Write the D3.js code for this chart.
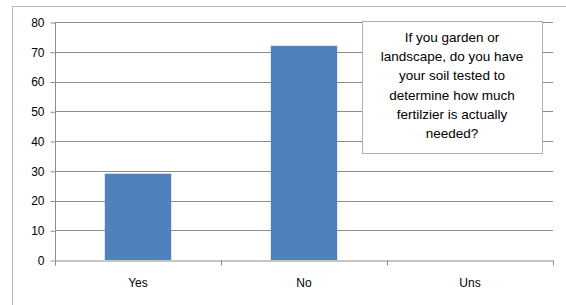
<!DOCTYPE html>
<html lang="en">
<head>
	<meta charset="UTF-8"/>
	<title>Soil testing survey</title>
	<script src="https://d3js.org/d3.v7.min.js"></script>
	<style>
		body { margin:0; background:#fff; }
		svg text { font-family: "Liberation Sans", Arial, sans-serif; fill:#000; }
	</style>
</head>
<body>
	<script>

	var w = 566;
	var h = 305;

	var categories = ["Yes", "No", "Uns"];
	var values = [29, 72, 0];
	var yTicks = [0, 10, 20, 30, 40, 50, 60, 70, 80];
	var titleLines = ["If you garden or", "landscape, do you have", "your soil tested to",
	                  "determine how much", "fertilzier is actually", "needed?"];

	var plot = {left:55, right:553, top:22, bottom:260};

	var xScale = d3.scaleBand()
				.domain(categories)
				.range([plot.left, plot.right])
				.paddingInner(0.6)
				.paddingOuter(0.3);

	var bandScale = d3.scaleBand()
				.domain(categories)
				.range([plot.left, plot.right]);

	var yScale = d3.scaleLinear()
				.domain([0, 80])
				.range([plot.bottom, plot.top]);

	var svg = d3.select("body")
				.append("svg")
				.attr("width", w)
				.attr("height", h);

	// chart area border (right and bottom run off the picture)
	svg.append("rect")
		.attr("x", 12.5).attr("y", 6.5)
		.attr("width", 570).attr("height", 320)
		.attr("fill", "none")
		.attr("stroke", "#b8b8b8");

	// gridlines
	svg.selectAll("line.grid")
		.data(yTicks.filter(function(d){ return d > 0; }))
		.enter()
		.append("line")
		.attr("class", "grid")
		.attr("x1", plot.left).attr("x2", plot.right)
		.attr("y1", function(d){ return Math.round(yScale(d)) + 0.5; })
		.attr("y2", function(d){ return Math.round(yScale(d)) + 0.5; })
		.attr("stroke", "#8c8c8c");

	// y axis
	var yAxis = svg.append("g")
		.attr("transform", "translate(" + plot.left + ".5,0.5)")
		.call(d3.axisLeft(yScale).tickValues(yTicks).tickSize(5).tickPadding(6));
	yAxis.selectAll("path, line").attr("stroke", "#8c8c8c");
	yAxis.select(".domain").attr("d", "M0," + plot.top + "V" + plot.bottom);
	yAxis.selectAll("text").attr("font-size", 12).attr("font-family", "Liberation Sans, Arial, sans-serif");

	// bars
	svg.selectAll("rect.bar")
		.data(values)
		.enter()
		.append("rect")
		.attr("class", "bar")
		.attr("x", function(d, i){ return xScale(categories[i]); })
		.attr("width", xScale.bandwidth())
		.attr("y", function(d){ return yScale(d); })
		.attr("height", function(d){ return plot.bottom - yScale(d); })
		.attr("fill", "#4f81bd");

	// x axis
	var xAxis = svg.append("g")
		.attr("transform", "translate(0," + (plot.bottom + 0.5) + ")")
		.call(d3.axisBottom(bandScale).tickSize(0).tickPadding(18));
	xAxis.select(".domain").attr("stroke", "#8c8c8c");
	xAxis.selectAll("text").attr("font-size", 12).attr("font-family", "Liberation Sans, Arial, sans-serif");
	xAxis.selectAll("line.sep")
		.data(categories.concat(["end"]))
		.enter()
		.append("line")
		.attr("class", "sep")
		.attr("x1", function(d, i){ return Math.round(plot.left + i * bandScale.bandwidth()) + 0.5; })
		.attr("x2", function(d, i){ return Math.round(plot.left + i * bandScale.bandwidth()) + 0.5; })
		.attr("y1", 0).attr("y2", 5)
		.attr("stroke", "#8c8c8c");

	// title box
	svg.append("rect")
		.attr("x", 362.5).attr("y", 21.5)
		.attr("width", 180).attr("height", 132)
		.attr("fill", "#fff")
		.attr("stroke", "#b0b0b0");

	svg.selectAll("text.title")
		.data(titleLines)
		.enter()
		.append("text")
		.attr("class", "title")
		.attr("x", 452)
		.attr("y", function(d, i){ return 42 + i * 19.2; })
		.attr("text-anchor", "middle")
		.attr("font-size", 13.5)
		.text(function(d){ return d; });

	</script>
</body>
</html>
